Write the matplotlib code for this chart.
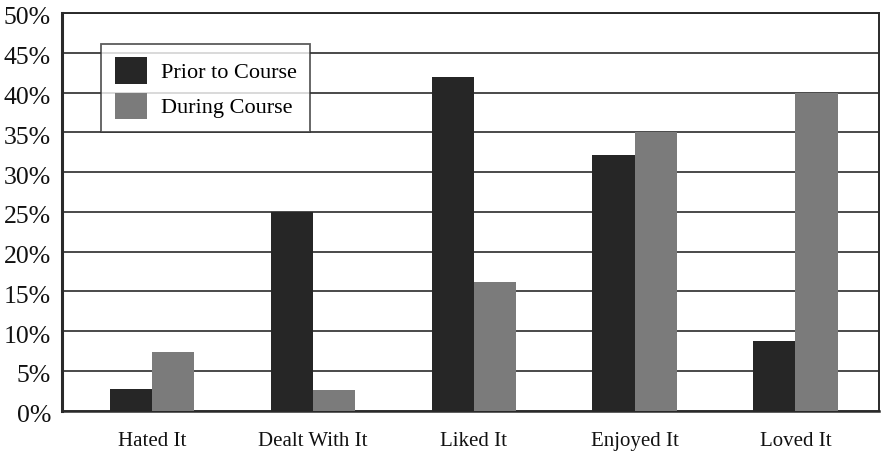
import numpy as np
import matplotlib
matplotlib.use("Agg")
import matplotlib.pyplot as plt
import matplotlib.transforms as mtransforms
from matplotlib.patches import Patch

categories = ["Hated It", "Dealt With It", "Liked It", "Enjoyed It", "Loved It"]
prior = [2.7, 25.0, 42.0, 32.2, 8.7]
during = [7.4, 2.6, 16.2, 35.0, 39.9]
yticks = [0, 5, 10, 15, 20, 25, 30, 35, 40, 45, 50]

plt.rcParams["font.family"] = ["Liberation Serif", "DejaVu Serif"]

fig = plt.figure(figsize=(8.83, 4.54), dpi=100)
ax = fig.add_axes([0.0702, 0.0954, 0.9253, 0.876])

x = np.arange(len(categories))
w = 0.262
dark = "#262626"
grey = "#7b7b7b"

ax.bar(x - w / 2, prior, width=w, color=dark, zorder=3)
ax.bar(x + w / 2, during, width=w, color=grey, zorder=3)

ax.set_ylim(0, 50)
ax.set_xlim(-0.56, 4.52)
ax.set_yticks(yticks)
ax.set_yticklabels([f"{t}%" for t in yticks], fontsize=18.5)
ax.set_xticks(x)
ax.set_xticklabels(categories, fontsize=15)
ax.tick_params(axis="both", length=0, colors="#111111")
ax.tick_params(axis="y", pad=8)
ax.tick_params(axis="x", pad=15)

# nudge the percent labels down a touch
shift = mtransforms.ScaledTranslation(0, -3 / 100, fig.dpi_scale_trans)
for lbl in ax.get_yticklabels():
    lbl.set_transform(lbl.get_transform() + shift)

ax.yaxis.grid(True, color="#3a3a3a", linewidth=1.3, zorder=0)
ax.set_axisbelow(True)
for side in ["left", "bottom", "top", "right"]:
    ax.spines[side].set_color("#2a2a2a")
    ax.spines[side].set_linewidth(1.4)
ax.spines["left"].set_linewidth(2.2)
ax.spines["bottom"].set_linewidth(1.8)

handles = [Patch(facecolor=dark, label="Prior to Course"),
           Patch(facecolor=grey, label="During Course")]
leg = ax.legend(handles=handles, loc="upper left", bbox_to_anchor=(0.048, 0.922),
                fontsize=16, frameon=True, fancybox=False, borderpad=0.6,
                handlelength=1.45, handleheight=1.45, handletextpad=0.65,
                labelspacing=0.4, borderaxespad=0)
leg.get_frame().set_edgecolor("#333333")
leg.get_frame().set_linewidth(1.3)
leg.set_zorder(5)

fig.savefig("out.png", dpi=100)
